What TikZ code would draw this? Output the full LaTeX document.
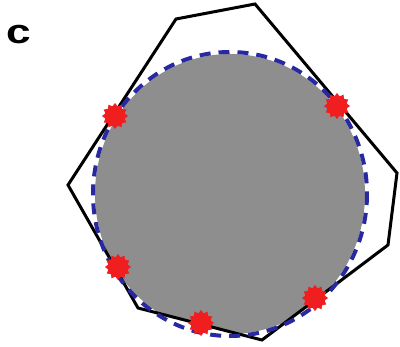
\documentclass[tikz,border=0pt]{standalone}
\usepackage{fontspec}
\setsansfont{Liberation Sans}
\usetikzlibrary{shapes.geometric}
\definecolor{diskgray}{RGB}{142,142,142}
\definecolor{dashblue}{RGB}{40,40,160}
\definecolor{starred}{RGB}{240,30,30}
\tikzset{
  hull/.style={draw=black, line width=3pt, line join=miter},
  fit circle/.style={draw=dashblue, line width=4pt, dash pattern=on 11pt off 8pt},
  contact/.style={star, star points=12, star point ratio=1.3, fill=starred, draw=none, minimum size=26pt, inner sep=0pt}
}
\begin{document}
\begin{tikzpicture}[x=1pt,y=-1pt]
\useasboundingbox (0,0) rectangle (400,347);
\coordinate (p1) at (176,19);
\coordinate (p2) at (255,4);
\coordinate (p3) at (397,173);
\coordinate (p4) at (388,245);
\coordinate (p5) at (262,340);
\coordinate (p6) at (138,308);
\coordinate (p7) at (68,185);
\begin{scope}
  \clip (p1) -- (p2) -- (p3) -- (p4) -- (p5) -- (p6) -- (p7) -- cycle;
  \fill[diskgray] (230,194) ellipse [x radius=135, y radius=140];
\end{scope}
\draw[hull] (p1) -- (p2) -- (p3) -- (p4) -- (p5) -- (p6) -- (p7) -- cycle;
\draw[fit circle] (230,194) ellipse [x radius=137, y radius=142];
\node[contact] (s1) at (115,116) {};
\node[contact] (s2) at (337,106) {};
\node[contact] (s3) at (118,267) {};
\node[contact] (s4) at (315,298) {};
\node[contact] (s5) at (201,323) {};
\node[font=\sffamily\bfseries\fontsize{34}{34}\selectfont, anchor=base west, inner sep=0pt] (lab) at (6,44) {\scalebox{1.3}[1]{c}};
\end{tikzpicture}
\end{document}
